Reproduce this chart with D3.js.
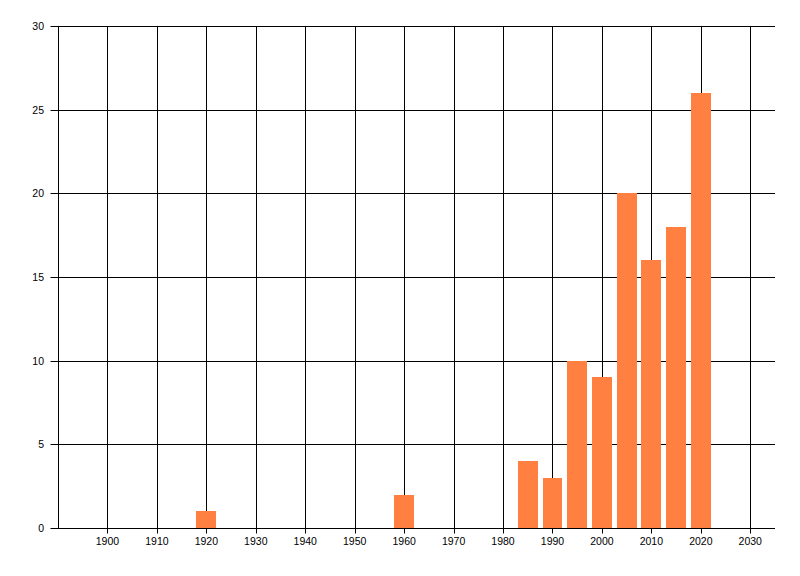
<!DOCTYPE html>
<html>
<head>
<meta charset="utf-8">
<script src="https://cdn.jsdelivr.net/npm/d3@7"></script>
<style>
  body { margin: 0; background: #fff; }
  svg text { font-family: "Liberation Sans", Arial, sans-serif; font-size: 10.5px; fill: #000; }
</style>
</head>
<body>
<div id="chart"></div>
<script>
var years = [1920, 1960, 1985, 1990, 1995, 2000, 2005, 2010, 2015, 2020];
var counts = [1, 2, 4, 3, 10, 9, 20, 16, 18, 26];
var xTicks = [1900, 1910, 1920, 1930, 1940, 1950, 1960, 1970, 1980, 1990, 2000, 2010, 2020, 2030];
var yTicks = [0, 5, 10, 15, 20, 25, 30];

var w = 800, h = 576;
var barYears = 4;

var svg = d3.select("#chart")
            .append("svg")
            .attr("width", w)
            .attr("height", h);

var xScale = d3.scaleLinear()
               .domain([1890, 2035])
               .range([58, 775]);

var yScale = d3.scaleLinear()
               .domain([0, 30])
               .range([528, 26]);

function px(v) { return Math.round(v) + 0.5; }

// vertical grid lines (1890 acts as the left axis)
svg.selectAll("line.vgrid")
   .data([1890].concat(xTicks))
   .enter()
   .append("line")
   .attr("class", "vgrid")
   .attr("x1", function(d) { return px(xScale(d)); })
   .attr("x2", function(d) { return px(xScale(d)); })
   .attr("y1", px(yScale(30)))
   .attr("y2", function(d) { return d === 1890 ? px(yScale(0)) : px(yScale(0)) + 5; })
   .attr("stroke", "#000")
   .attr("stroke-width", 1);

// horizontal grid lines with left tick marks
svg.selectAll("line.hgrid")
   .data(yTicks)
   .enter()
   .append("line")
   .attr("class", "hgrid")
   .attr("x1", px(xScale(1890)) - 8)
   .attr("x2", xScale(2035))
   .attr("y1", function(d) { return px(yScale(d)); })
   .attr("y2", function(d) { return px(yScale(d)); })
   .attr("stroke", "#000")
   .attr("stroke-width", 1);

// bars
svg.selectAll("rect")
   .data(years)
   .enter()
   .append("rect")
   .attr("x", function(d) { return Math.round(xScale(d - barYears / 2)); })
   .attr("width", function(d) { return Math.round(xScale(d + barYears / 2)) - Math.round(xScale(d - barYears / 2)); })
   .attr("y", function(d, i) { return Math.round(yScale(counts[i])); })
   .attr("height", function(d, i) { return Math.round(yScale(0)) - Math.round(yScale(counts[i])); })
   .attr("fill", "rgb(255, 128, 64)");

// x labels
svg.selectAll("text.xlab")
   .data(xTicks)
   .enter()
   .append("text")
   .attr("class", "xlab")
   .attr("x", function(d) { return xScale(d); })
   .attr("y", 545)
   .attr("text-anchor", "middle")
   .text(function(d) { return d; });

// y labels
svg.selectAll("text.ylab")
   .data(yTicks)
   .enter()
   .append("text")
   .attr("class", "ylab")
   .attr("x", 44)
   .attr("y", function(d) { return yScale(d) + 4; })
   .attr("text-anchor", "end")
   .text(function(d) { return d; });
</script>
</body>
</html>
